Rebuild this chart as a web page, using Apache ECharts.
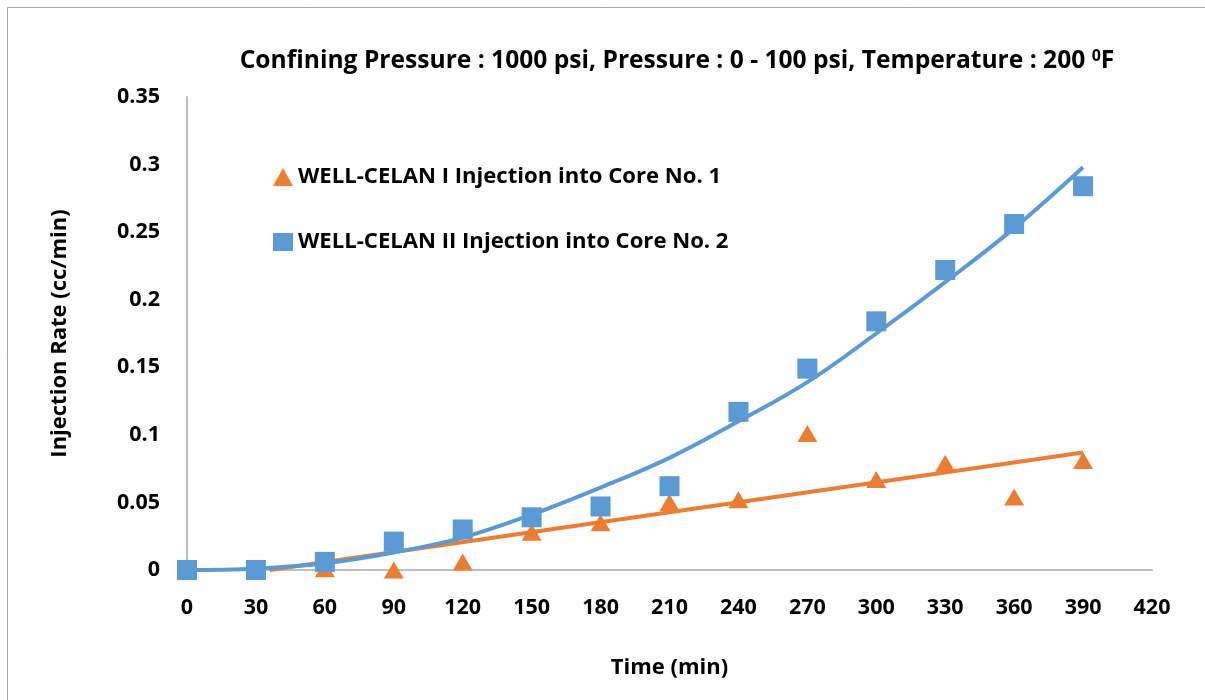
<!DOCTYPE html>
<html><head><meta charset="utf-8">
<script src="https://cdn.jsdelivr.net/npm/echarts@6/dist/echarts.min.js"></script>
<style>html,body{margin:0;padding:0;background:#fff}#c{width:1205px;height:700px}</style>
</head><body><div id="c"></div>
<script>
// Measured data (time in min, injection rate in cc/min)
const times = [0, 30, 60, 90, 120, 150, 180, 210, 240, 270, 300, 330, 360, 390];
const core1Rates = [0, 0, 0.001, 0, 0.006, 0.028, 0.035, 0.050, 0.052, 0.101, 0.067, 0.079, 0.054, 0.081];
const core2Rates = [0, 0, 0.006, 0.021, 0.030, 0.039, 0.047, 0.062, 0.117, 0.149, 0.184, 0.222, 0.256, 0.284];
// Trendlines
const trend1Times = [36, 390];
const trend1Rates = [0, 0.087];
const trend2Times = [0, 30, 60, 90, 120, 150, 180, 210, 240, 270, 300, 330, 360, 390];
const trend2Rates = [0, 0.001, 0.005, 0.013, 0.024, 0.041, 0.061, 0.083, 0.110, 0.139, 0.175, 0.213, 0.253, 0.298];
const xTicks = [0, 30, 60, 90, 120, 150, 180, 210, 240, 270, 300, 330, 360, 390, 420];
const yTicks = [0, 0.05, 0.1, 0.15, 0.2, 0.25, 0.3, 0.35];

const name1 = 'WELL-CELAN I Injection into Core No. 1';
const name2 = 'WELL-CELAN II Injection into Core No. 2';
const F = 'Open Sans';
const orange = '#ED7D31', blue = '#5B9BD5';
const zip = (a, b) => a.map((v, i) => [v, b[i]]);

// fit font size so text matches the reference width
const cv = document.createElement('canvas').getContext('2d');
function fit(text, target) {
  cv.font = 'bold 100px "' + F + '"';
  return Math.round(100 * target / cv.measureText(text).width * 10) / 10;
}
const titleSize = fit('Confining Pressure : 1000 psi, Pressure : 0 - 100 psi, Temperature : 200 0F', 878);
const legendSize = fit(name1, 424);
const nameSize = fit('Injection Rate (cc/min)', 248);
const tickSize = fit('0.35', 43);

const chart = echarts.init(document.getElementById('c'));
chart.setOption({
  animation: false,
  textStyle: { fontFamily: F },
  graphic: [{ type: 'rect', shape: { x: 7.5, y: 7.5, width: 1200, height: 700 }, style: { fill: 'none', stroke: '#a6a6a6', lineWidth: 1 }, silent: true }],
  title: {
    text: 'Confining Pressure : 1000 psi, Pressure : 0 - 100 psi, Temperature : 200 {sup|0}F',
    left: 672, top: 43, textAlign: 'center',
    textStyle: { fontFamily: F, fontWeight: 'bold', fontSize: titleSize, color: '#000',
      rich: { sup: { fontFamily: F, fontWeight: 'bold', fontSize: Math.round(titleSize * 0.65), color: '#000', verticalAlign: 'top', padding: [0, 0, 8, 0] } } }
  },
  legend: {
    orient: 'vertical', left: 268, top: 161, itemGap: 43,
    itemWidth: 20, itemHeight: 18,
    data: [{ name: name1, icon: 'triangle' }, { name: name2, icon: 'rect' }],
    textStyle: { fontFamily: F, fontWeight: 'bold', fontSize: legendSize, color: '#000' }
  },
  grid: { left: 187, right: 53, top: 97, bottom: 130, containLabel: false },
  xAxis: {
    type: 'value', min: 0, max: 420, interval: 30,
    name: 'Time (min)', nameLocation: 'middle', nameGap: 87,
    nameTextStyle: { fontFamily: F, fontWeight: 'bold', fontSize: nameSize, color: '#000' },
    axisLine: { lineStyle: { color: '#bfbfbf', width: 2 } },
    axisTick: { show: false }, splitLine: { show: false },
    axisLabel: { fontFamily: F, fontWeight: 'bold', fontSize: tickSize, color: '#000', margin: 27,
      formatter: v => xTicks.includes(v) ? String(v) : '' }
  },
  yAxis: {
    type: 'value', min: 0, max: 0.35, interval: 0.05,
    name: 'Injection Rate (cc/min)', nameLocation: 'middle', nameGap: 116, nameRotate: 90,
    nameTextStyle: { fontFamily: F, fontWeight: 'bold', fontSize: nameSize, color: '#000' },
    axisLine: { show: true, lineStyle: { color: '#bfbfbf', width: 2 } },
    axisTick: { show: false }, splitLine: { show: false },
    axisLabel: { fontFamily: F, fontWeight: 'bold', fontSize: tickSize, color: '#000', margin: 27,
      formatter: v => { const t = yTicks.find(t => Math.abs(t - v) < 1e-9); return t === undefined ? '' : String(t); } }
  },
  series: [
    { name: 'trend1', type: 'line', data: zip(trend1Times, trend1Rates), showSymbol: false, symbol: 'none',
      lineStyle: { color: orange, width: 4 }, z: 2, silent: true },
    { name: name1, type: 'scatter', data: zip(times, core1Rates), symbol: 'triangle', symbolSize: [20, 17],
      itemStyle: { color: orange, opacity: 1 }, z: 3 },
    { name: 'trend2', type: 'line', data: zip(trend2Times, trend2Rates), showSymbol: false, symbol: 'none', smooth: 0.4,
      lineStyle: { color: blue, width: 4 }, z: 4, silent: true },
    { name: name2, type: 'scatter', data: zip(times, core2Rates), symbol: 'rect', symbolSize: 20,
      itemStyle: { color: blue, opacity: 1 }, z: 5 }
  ]
});
</script></body></html>
